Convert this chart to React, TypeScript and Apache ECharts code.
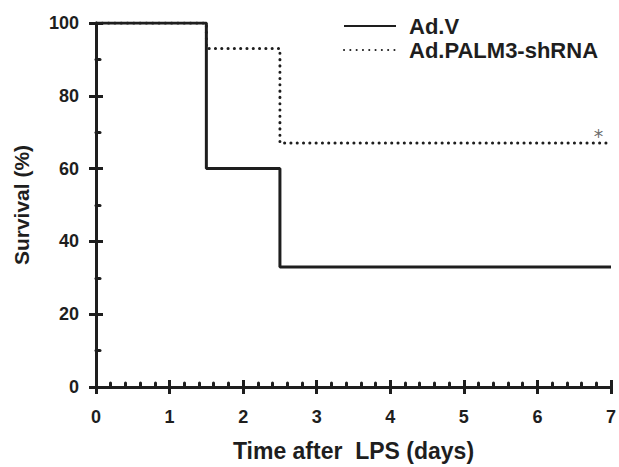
import React, { useEffect, useRef } from "react";
import * as echarts from "echarts";

const seriesNames = ["Ad.V", "Ad.PALM3-shRNA"];
const adVDays = [0, 1.5, 2.5, 7];
const adVSurvival = [100, 60, 33, 33];
const palmDays = [0, 1.5, 2.5, 7];
const palmSurvival = [100, 93, 67, 67];
const starPoint = [6.83, 69];
const starText = "*";
const xTitle = "Time after  LPS (days)";
const yTitle = "Survival (%)";

const FONT = "'Liberation Sans', Arial, Helvetica, sans-serif";
const INK = "#1e1e1e";

export default function App() {
  const ref = useRef<HTMLDivElement>(null);
  useEffect(() => {
    if (!ref.current) return;
    const chart = echarts.init(ref.current, undefined, { renderer: "svg" });
    const xBase = {
      type: "value" as const,
      min: 0,
      max: 7,
      interval: 1,
      gridIndex: 0,
      position: "bottom" as const,
    };
    const yBase = {
      type: "value" as const,
      min: 0,
      max: 100,
      interval: 20,
      gridIndex: 0,
      position: "left" as const,
    };
    chart.setOption({
      animation: false,
      backgroundColor: "#ffffff",
      grid: { left: 96, right: 8, top: 23, bottom: 74, containLabel: false },
      legend: {
        data: seriesNames,
        orient: "vertical",
        left: 343,
        top: 14,
        padding: 0,
        itemWidth: 52,
        itemHeight: 14,
        itemGap: 0,
        itemStyle: { opacity: 0 },
        textStyle: {
          fontFamily: FONT,
          fontWeight: "bold",
          fontSize: 22,
          lineHeight: 24,
          color: INK,
          padding: [0, 0, 0, 8],
        },
        selectedMode: false,
      },
      xAxis: [
        {
          ...xBase,
          name: xTitle,
          nameLocation: "middle",
          nameGap: 52,
          nameTextStyle: { fontFamily: FONT, fontWeight: "bold", fontSize: 23, color: INK },
          axisLine: { show: true, onZero: false, lineStyle: { color: INK, width: 3 } },
          axisTick: { show: true, inside: true, length: 7, lineStyle: { color: INK, width: 3 } },
          minorTick: { show: true, splitNumber: 5, length: 4, lineStyle: { color: INK, width: 3, cap: "round" } },
          axisLabel: { margin: 21, fontFamily: FONT, fontWeight: "bold", fontSize: 18, color: INK },
          splitLine: { show: false },
          minorSplitLine: { show: false },
        },
        {
          ...xBase,
          axisLine: { show: false },
          axisTick: { show: true, inside: false, length: 7, lineStyle: { color: INK, width: 3 } },
          axisLabel: { show: false },
          splitLine: { show: false },
        },
      ],
      yAxis: [
        {
          ...yBase,
          name: yTitle,
          nameLocation: "middle",
          nameGap: 64,
          nameTextStyle: { fontFamily: FONT, fontWeight: "bold", fontSize: 21, color: INK },
          axisLine: { show: true, onZero: false, lineStyle: { color: INK, width: 3 } },
          axisTick: { show: true, inside: true, length: 7, lineStyle: { color: INK, width: 3 } },
          minorTick: { show: true, splitNumber: 2, length: 4, lineStyle: { color: INK, width: 3, cap: "round" } },
          axisLabel: { margin: 17, fontFamily: FONT, fontWeight: "bold", fontSize: 18, color: INK },
          splitLine: { show: false },
          minorSplitLine: { show: false },
        },
        {
          ...yBase,
          axisLine: { show: false },
          axisTick: { show: true, inside: false, length: 7, lineStyle: { color: INK, width: 3 } },
          axisLabel: { show: false },
          splitLine: { show: false },
        },
      ],
      series: [
        {
          name: seriesNames[1],
          type: "line",
          step: "end",
          xAxisIndex: 0,
          yAxisIndex: 0,
          symbol: "none",
          data: palmDays.map((d, i) => [d, palmSurvival[i]]),
          lineStyle: { color: INK, width: 3, type: [0.1, 6.2], cap: "round" },
          itemStyle: { color: INK },
          z: 2,
        },
        {
          name: seriesNames[0],
          type: "line",
          step: "end",
          xAxisIndex: 0,
          yAxisIndex: 0,
          symbol: "none",
          data: adVDays.map((d, i) => [d, adVSurvival[i]]),
          lineStyle: { color: INK, width: 3, type: "solid" },
          itemStyle: { color: INK },
          z: 3,
        },
        {
          name: "sig",
          type: "scatter",
          xAxisIndex: 0,
          yAxisIndex: 0,
          symbolSize: 0,
          data: [starPoint],
          label: {
            show: true,
            position: "inside",
            formatter: starText,
            fontFamily: "'DejaVu Sans', sans-serif",
            fontSize: 19,
            color: "#444",
          },
          silent: true,
        },
      ],
    });
    return () => chart.dispose();
  }, []);
  return (
    <div
      ref={ref}
      style={{ position: "absolute", left: 0, top: 0, width: 619, height: 467 }}
    />
  );
}
